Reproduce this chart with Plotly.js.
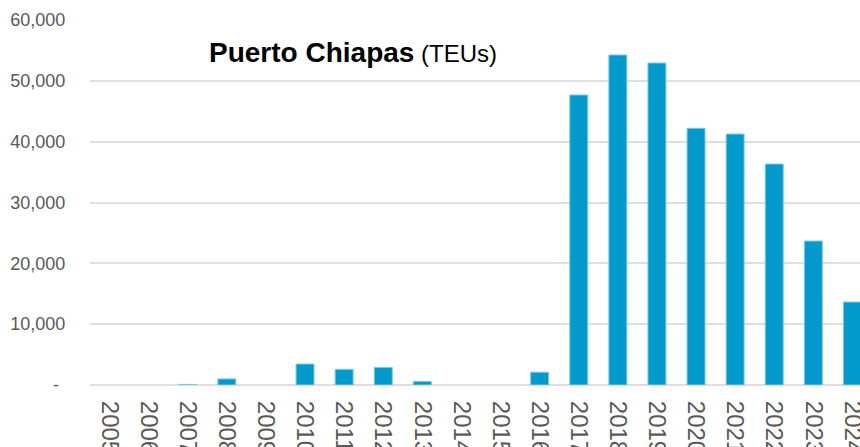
<!DOCTYPE html>
<html>
<head>
<meta charset="utf-8">
<script src="https://cdn.plot.ly/plotly-3.0.1.min.js"></script>
<style>
html, body { margin: 0; padding: 0; overflow: hidden; background: #fff; width: 860px; height: 447px; }
#chart { width: 900px; height: 500px; }
</style>
</head>
<body>
<div id="chart"></div>
<script>
const years = ["2005","2006","2007","2008","2009","2010","2011","2012","2013","2014",
               "2015","2016","2017","2018","2019","2020","2021","2022","2023","2024"];
const teus = [0, 0, 100, 1000, 0, 3450, 2580, 2900, 600, 0,
              0, 2100, 47670, 54250, 52930, 42200, 41260, 36330, 23670, 13640];
const yTickVals = [0, 10000, 20000, 30000, 40000, 50000, 60000];
const yTickText = ["-\u00a0\u200a", "10,000", "20,000", "30,000", "40,000", "50,000", "60,000"];
const titleMain = "Puerto Chiapas";
const titleUnit = "(TEUs)";

const trace = {
  type: 'bar',
  x: years,
  y: teus,
  marker: {
    color: '#009ACD',
    line: { color: '#7fcbe6', width: teus.map(v => v > 0 ? 1 : 0) }
  },
  hoverinfo: 'x+y'
};

const layout = {
  width: 900,
  height: 500,
  margin: { l: 90, r: 28, t: 20, b: 115 },
  paper_bgcolor: '#ffffff',
  plot_bgcolor: '#ffffff',
  bargap: 0.54,
  showlegend: false,
  font: { family: 'Liberation Sans, Arial, sans-serif', color: '#595959' },
  xaxis: {
    type: 'category',
    tickangle: 90,
    tickfont: { size: 24, color: '#595959' },
    ticks: 'outside', ticklen: 10, tickcolor: 'rgba(0,0,0,0)',
    showline: false, showgrid: false, automargin: false
  },
  yaxis: {
    range: [0, 60000],
    tickvals: yTickVals,
    ticktext: yTickText,
    tickfont: { size: 18, color: '#595959' },
    ticks: 'outside', ticklen: 20, tickcolor: 'rgba(0,0,0,0)',
    showgrid: true, gridcolor: '#dedede', gridwidth: 2,
    zeroline: true, zerolinecolor: '#dedede', zerolinewidth: 2,
    showline: false, automargin: false, fixedrange: true
  },
  annotations: [{
    xref: 'paper', yref: 'paper',
    x: 0.149, y: 0.912, xanchor: 'left', yanchor: 'middle',
    showarrow: false,
    text: '<b>' + titleMain + '</b><span style="font-size:24px"> ' + titleUnit + '</span>',
    font: { size: 28, color: '#000000', family: 'Liberation Sans, Arial, sans-serif' }
  }]
};

Plotly.newPlot('chart', [trace], layout, { staticPlot: true, displayModeBar: false });
</script>
</body>
</html>
